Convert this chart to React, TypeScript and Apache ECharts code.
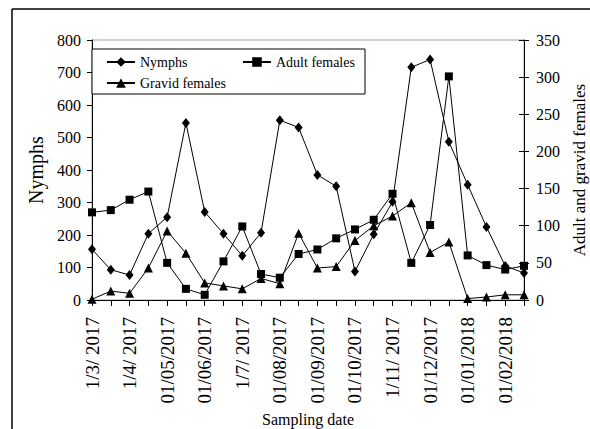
import React, { useEffect, useRef } from "react";
import * as echarts from "echarts";

const dates = [
  "1/3/ 2017", "15/3/2017", "1/4/ 2017", "15/4/2017", "01/05/2017", "15/05/2017",
  "01/06/2017", "15/06/2017", "1/7/ 2017", "15/7/2017", "01/08/2017", "15/08/2017",
  "01/09/2017", "15/09/2017", "01/10/2017", "15/10/2017", "1/11/ 2017", "15/11/2017",
  "01/12/2017", "15/12/2017", "01/01/2018", "15/01/2018", "01/02/2018", "15/02/2018",
];
const nymphs = [156, 93, 77, 204, 255, 545, 271, 204, 136, 207, 553, 531, 385, 350, 88, 202, 302, 716, 740, 487, 355, 225, 105, 83];
const adultFemales = [118, 121, 135, 146, 50, 15, 7, 52, 99, 35, 30, 62, 68, 83, 95, 108, 143, 50, 101, 301, 60, 47, 41, 46];
const gravidFemales = [1, 12, 9, 43, 93, 63, 23, 19, 15, 29, 22, 90, 43, 45, 80, 100, 113, 131, 64, 78, 2, 4, 7, 7];
const leftTicks = { min: 0, max: 800, interval: 100 };
const rightTicks = { min: 0, max: 350, interval: 50 };

const FONT = "Liberation Serif";

export default function App() {
  const ref = useRef<HTMLDivElement>(null);
  useEffect(() => {
    if (!ref.current) return;
    const chart = echarts.init(ref.current, undefined, { renderer: "svg" });
    const lineStyle = { color: "#000", width: 1 };
    chart.setOption({
      animation: false,
      backgroundColor: "#fff",
      textStyle: { fontFamily: FONT, color: "#000" },
      grid: {
        left: 92, right: 66, top: 40, bottom: 129,
        outerBoundsMode: "none",
        containLabel: false,
        show: true, borderColor: "#a0a0a0", borderWidth: 1,
      },
      xAxis: {
        type: "category",
        data: dates,
        boundaryGap: false,
        axisLine: { lineStyle: { color: "#000", width: 1 } },
        axisTick: { interval: 0, length: 6, lineStyle: { color: "#000" } },
        axisLabel: {
          interval: 1, rotate: 90, margin: 17,
          fontFamily: FONT, fontSize: 19, color: "#000",
        },
        splitLine: { show: false },
        name: "Sampling date",
        nameLocation: "middle",
        nameGap: 110,
        nameTextStyle: { fontFamily: FONT, fontSize: 16, color: "#000" },
      },
      yAxis: [
        {
          type: "value", position: "left", ...leftTicks,
          axisLine: { show: true, lineStyle: { color: "#000" } },
          axisTick: { show: true, length: 5, lineStyle: { color: "#000" } },
          axisLabel: { margin: 11, fontFamily: FONT, fontSize: 16, color: "#000" },
          splitLine: { show: false },
          name: "Nymphs",
          nameLocation: "middle",
          nameGap: 45,
          nameTextStyle: { fontFamily: FONT, fontSize: 20, color: "#000" },
        },
        {
          type: "value", position: "right", ...rightTicks,
          axisLine: { show: true, lineStyle: { color: "#000" } },
          axisTick: { show: true, length: 5, lineStyle: { color: "#000" } },
          axisLabel: { margin: 12, fontFamily: FONT, fontSize: 16, color: "#000" },
          splitLine: { show: false },
          name: "Adult and gravid females",
          nameLocation: "middle",
          nameGap: 45,
          nameTextStyle: { fontFamily: FONT, fontSize: 17, color: "#000" },
        },
        {
          type: "value", position: "right", ...rightTicks,
          axisLine: { show: false },
          axisTick: { show: true, inside: true, length: 5, lineStyle: { color: "#000" } },
          axisLabel: { show: false },
          splitLine: { show: false },
        },
      ],
      legend: [
        {
          data: ["Nymphs", "Gravid females"],
          orient: "vertical",
          left: 106, top: 55,
          itemWidth: 28, itemHeight: 12, itemGap: 7,
          padding: 0, z: 20,
          textStyle: { fontFamily: FONT, fontSize: 14, color: "#000" },
        },
        {
          data: ["Adult females"],
          orient: "vertical",
          left: 242, top: 55,
          itemWidth: 28, itemHeight: 12,
          padding: 0, z: 20,
          textStyle: { fontFamily: FONT, fontSize: 14, color: "#000" },
        },
      ],
      graphic: [
        { type: "rect", z: 10, shape: { x: 92, y: 49, width: 273, height: 45 }, style: { fill: "#fff", stroke: "#000", lineWidth: 1 } },
        { type: "line", z: 10, shape: { x1: 12, y1: 9, x2: 590, y2: 9 }, style: { stroke: "#000", lineWidth: 1.5 } },
        { type: "line", z: 10, shape: { x1: 12, y1: 9, x2: 12, y2: 429 }, style: { stroke: "#000", lineWidth: 1.5 } },
      ],
      series: [
        {
          name: "Nymphs", type: "line", yAxisIndex: 0, data: nymphs,
          symbol: "diamond", symbolSize: [8, 10], showAllSymbol: true,
          lineStyle, itemStyle: { color: "#000" },
        },
        {
          name: "Adult females", type: "line", yAxisIndex: 1, data: adultFemales,
          symbol: "rect", symbolSize: 8, showAllSymbol: true,
          lineStyle, itemStyle: { color: "#000" },
        },
        {
          name: "Gravid females", type: "line", yAxisIndex: 1, data: gravidFemales,
          symbol: "triangle", symbolSize: 9, showAllSymbol: true,
          lineStyle, itemStyle: { color: "#000" },
        },
      ],
    });
    return () => chart.dispose();
  }, []);
  return (
    <div
      ref={ref}
      style={{ position: "fixed", left: 0, top: 0, width: 590, height: 429 }}
    />
  );
}
